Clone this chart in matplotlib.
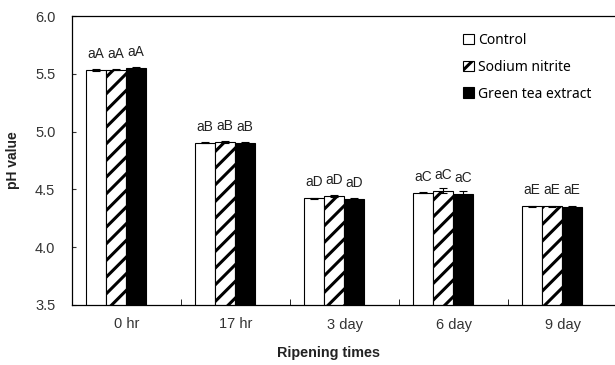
import matplotlib
matplotlib.use("Agg")
import matplotlib.pyplot as plt
import numpy as np

categories = ["0 hr", "17 hr", "3 day", "6 day", "9 day"]
series = ["Control", "Sodium nitrite", "Green tea extract"]
control = [5.533, 4.905, 4.422, 4.472, 4.355]
nitrite = [5.535, 4.910, 4.442, 4.490, 4.356]
greentea = [5.550, 4.905, 4.420, 4.460, 4.352]
control_err = [0.005, 0.005, 0.006, 0.006, 0.005]
nitrite_err = [0.005, 0.005, 0.006, 0.025, 0.004]
greentea_err = [0.005, 0.005, 0.006, 0.030, 0.004]
letters_control = ["aA", "aB", "aD", "aC", "aE"]
letters_nitrite = ["aA", "aB", "aD", "aC", "aE"]
letters_greentea = ["aA", "aB", "aD", "aC", "aE"]

plt.rcParams['font.family'] = ['Liberation Sans', 'DejaVu Sans']
plt.rcParams['hatch.linewidth'] = 2.2

fig = plt.figure(figsize=(6.15, 3.65), dpi=100)
ax = fig.add_axes([72/615, 1-305/365, 545/615, 289/365])

x = np.arange(len(categories))
w = 0.183
offsets = [-0.28, -0.097, 0.086]
vals = [control, nitrite, greentea]
errs = [control_err, nitrite_err, greentea_err]
letters = [letters_control, letters_nitrite, letters_greentea]
faces = ["white", "white", "black"]
hatches = [None, "//", None]

for i in range(3):
    ax.bar(x + offsets[i], vals[i], width=w, bottom=0, color=faces[i],
           edgecolor="black", linewidth=0.8, hatch=hatches[i], label=series[i],
           yerr=errs[i], capsize=3, error_kw=dict(elinewidth=0.8, capthick=0.8, ecolor="black"),
           zorder=2)
    for j in range(len(categories)):
        ax.annotate(letters[i][j], (x[j] + offsets[i], vals[i][j]), xytext=(0, 6.5),
                    textcoords="offset points", ha="center", va="bottom", fontsize=9.8,
                    color='#222222')

ax.set_ylim(3.5, 6.0)
ax.set_xlim(-0.5, 4.5)
ax.set_yticks([3.5, 4.0, 4.5, 5.0, 5.5, 6.0])
ax.set_yticklabels(["3.5", "4.0", "4.5", "5.0", "5.5", "6.0"])
ax.tick_params(axis='y', direction='in', length=3, labelsize=10.5, pad=12, colors='#333333')
ax.set_xticks(x)
ax.set_xticklabels(categories)
ax.tick_params(axis='x', which='major', length=0, labelsize=10.5, pad=9, colors='#333333')
ax.set_xticks(np.arange(0.5, 4.5, 1), minor=True)
ax.tick_params(axis='x', which='minor', direction='in', length=4)
ax.spines['right'].set_visible(False)
for s in ['top', 'left', 'bottom']:
    ax.spines[s].set_linewidth(0.9)

ax.set_xlabel("Ripening times", fontsize=10.4, fontweight='bold', color='#222222')
ax.xaxis.set_label_coords((328-72)/545, -(353-305)/289)
ax.xaxis.label.set_va('center')
ax.set_ylabel("pH value", fontsize=10, fontweight='bold', color='#222222')
ax.yaxis.set_label_coords(-(72-13)/545, 0.5)
ax.yaxis.label.set_va('center')

leg = ax.legend(loc='upper left', bbox_to_anchor=(463/615, 1-33/365), bbox_transform=fig.transFigure,
                frameon=False, prop={'family': 'Noto Sans', 'size': 10},
                handlelength=0.8, handleheight=0.8, handletextpad=0.3, labelspacing=0.85,
                borderaxespad=0, borderpad=0)

fig.savefig("out.png", dpi=100)
